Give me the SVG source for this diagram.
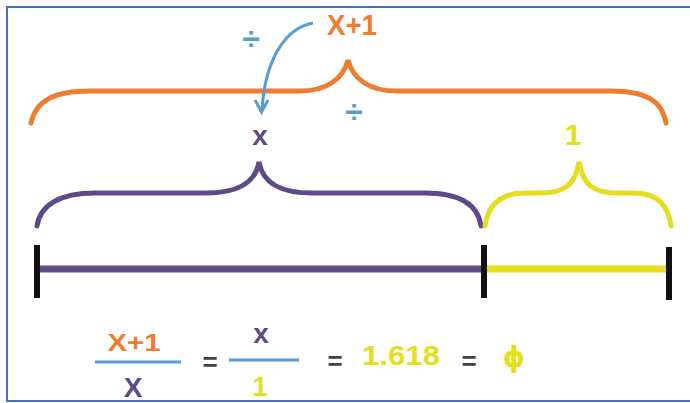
<svg xmlns="http://www.w3.org/2000/svg" width="690" height="403" viewBox="0 0 690 403">
<style>
.t{font-family:"Liberation Sans",Arial,sans-serif;font-weight:bold;text-anchor:middle}
.or{fill:#ED7D31}.pu{fill:#5E4A87}.ye{fill:#E6DD1E}.bl{fill:#5B9BD5}.gr{fill:#444}
.brace{fill:none;stroke-width:5;stroke-linecap:round}
</style>
<rect width="690" height="403" fill="#fff"/>
<g id="frame" fill="none" stroke="#4472C4" stroke-width="2">
<path d="M690,7 H7 V401 H690"/>
</g>
<g id="orange-brace">
<path class="brace" stroke="#ED7D31" d="M31,123 C36,100 55,91 90,91 L300,91 C325,91 343,80 348,60 C353,80 371,91 396,91 L610,91 C645,91 662,100 666,123"/>
<text class="t or" x="352" y="35" font-size="30" textLength="50" lengthAdjust="spacingAndGlyphs">X+1</text>
</g>
<g id="divide-signs">
<text class="t bl" x="251" y="50" font-size="32">÷</text>
<text class="t bl" x="354" y="123" font-size="32">÷</text>
</g>
<g id="purple-brace">
<path class="brace" stroke="#5E4A87" d="M37,226 C40,205 60,193 95,193 L205,193 C235,193 255,185 259,162 C263,185 283,193 313,193 L425,193 C460,193 478,205 481,226"/>
<text class="t pu" x="260" y="145" font-size="28">x</text>
</g>
<g id="yellow-brace">
<path class="brace" stroke="#E6DD1E" d="M485,226 C488,205 500,193 525,193 L540,193 C565,193 575,185 579,162 C583,185 593,193 618,193 L633,193 C658,193 668,205 671,226"/>
<text class="t ye" x="573" y="145" font-size="30">1</text>
</g>
<g id="segment">
<line x1="37" y1="269" x2="484" y2="269" stroke="#5E4A87" stroke-width="7"/>
<line x1="484" y1="269" x2="667" y2="269" stroke="#E6DD1E" stroke-width="7"/>
<line x1="37" y1="245" x2="37" y2="298" stroke="#111" stroke-width="6"/>
<line x1="484" y1="245" x2="484" y2="298" stroke="#111" stroke-width="6"/>
<line x1="669" y1="247" x2="669" y2="300" stroke="#111" stroke-width="6"/>
</g>
<g id="connectors">
<path d="M313,23 C285,28 265,60 262,110" fill="none" stroke="#5B9BD5" stroke-width="3"/>
<path d="M255,100 L261.5,112 L268,100" fill="none" stroke="#5B9BD5" stroke-width="3" stroke-linejoin="miter"/>
</g>
<g id="equation">
<text class="t or" x="134" y="351" font-size="24" textLength="53" lengthAdjust="spacingAndGlyphs">X+1</text>
<line x1="95" y1="362" x2="181" y2="362" stroke="#5B9BD5" stroke-width="3"/>
<text class="t pu" x="133" y="397" font-size="28">X</text>
<text class="t gr" x="210" y="371" font-size="26">=</text>
<text class="t pu" x="261" y="343" font-size="28">x</text>
<line x1="229" y1="360" x2="299" y2="360" stroke="#5B9BD5" stroke-width="3"/>
<text class="t ye" x="260" y="396" font-size="27">1</text>
<text class="t gr" x="335" y="370" font-size="26">=</text>
<text class="t ye" x="401" y="365" font-size="28" textLength="78" lengthAdjust="spacingAndGlyphs">1.618</text>
<text class="t gr" x="469" y="370" font-size="26">=</text>
<text class="t ye" x="514" y="367" font-size="28" style="font-family:'DejaVu Sans',sans-serif">ϕ</text>
</g>
</svg>
